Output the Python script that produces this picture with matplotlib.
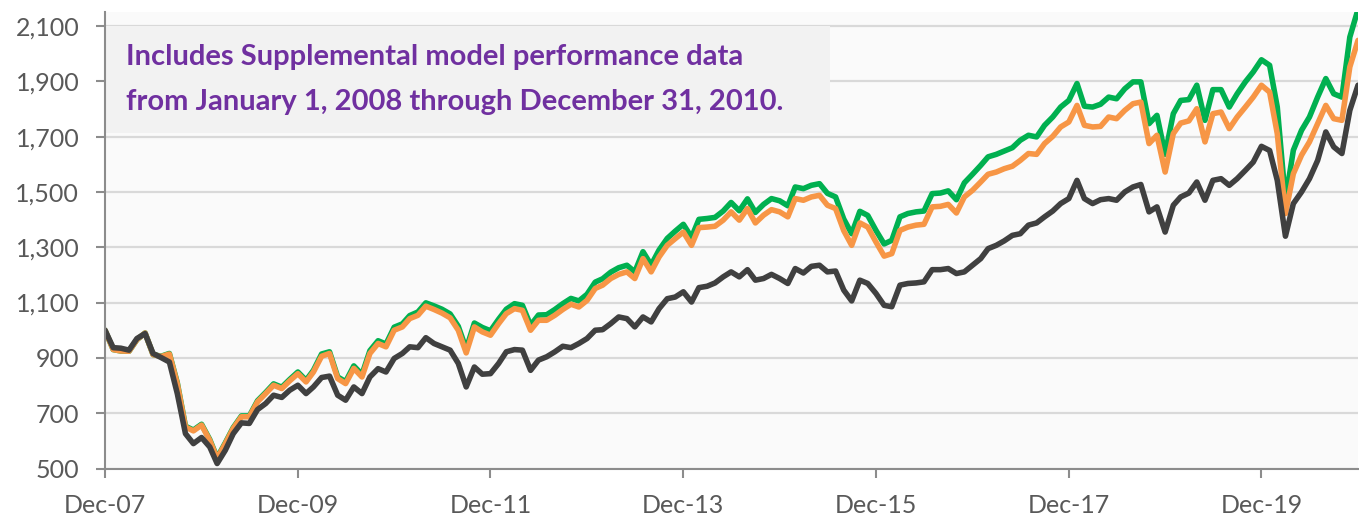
import matplotlib
matplotlib.use("Agg")
import matplotlib.pyplot as plt
import matplotlib.ticker as mticker
from matplotlib.patches import Rectangle
import pandas as pd

# ──────────────────────────────────────────────────────────────────────────────
# Data (growth of 1,000, monthly, Dec-07 .. Dec-20)
# ──────────────────────────────────────────────────────────────────────────────

months = pd.date_range("2007-12-31", periods=157, freq="ME")

green = [
    1000, 930, 925, 924, 966, 990, 912, 906, 916, 810,
    653, 639, 660, 605, 539, 593, 648, 690, 690, 745,
    775, 806, 794, 822, 849, 819, 855, 914, 922, 831,
    814, 871, 840, 926, 962, 950, 1011, 1023, 1053, 1066,
    1099, 1088, 1076, 1059, 1014, 932, 1026, 1010, 998, 1040,
    1076, 1096, 1090, 1018, 1055, 1056, 1075, 1096, 1115, 1106,
    1130, 1174, 1186, 1210, 1226, 1235, 1211, 1284, 1236, 1290,
    1332, 1358, 1383, 1336, 1401, 1404, 1408, 1431, 1462, 1432,
    1475, 1426, 1455, 1476, 1468, 1450, 1518, 1512, 1524, 1530,
    1495, 1482, 1402, 1349, 1430, 1415, 1361, 1312, 1325, 1410,
    1422, 1428, 1431, 1494, 1496, 1504, 1472, 1533, 1564, 1596,
    1627, 1636, 1648, 1660, 1687, 1705, 1699, 1741, 1771, 1807,
    1831, 1892, 1810, 1807, 1817, 1843, 1837, 1873, 1898, 1898,
    1747, 1777, 1636, 1783, 1831, 1834, 1886, 1759, 1870, 1870,
    1807, 1855, 1898, 1934, 1978, 1958, 1807, 1470, 1651, 1723,
    1771, 1843, 1910, 1855, 1843, 2060, 2160,
]

orange = [
    1000, 930, 925, 924, 966, 990, 912, 905, 914, 807,
    650, 636, 657, 602, 536, 590, 645, 687, 687, 741,
    771, 801, 789, 817, 843, 813, 849, 906, 916, 825,
    807, 862, 831, 916, 952, 940, 1000, 1012, 1042, 1054,
    1087, 1075, 1062, 1045, 1000, 918, 1012, 994, 982, 1024,
    1060, 1078, 1072, 1000, 1036, 1036, 1054, 1075, 1094, 1084,
    1108, 1151, 1163, 1187, 1202, 1211, 1187, 1259, 1211, 1265,
    1307, 1331, 1355, 1307, 1371, 1373, 1376, 1398, 1428, 1398,
    1440, 1388, 1416, 1436, 1428, 1410, 1476, 1470, 1482, 1488,
    1452, 1440, 1360, 1307, 1388, 1373, 1319, 1268, 1277, 1361,
    1373, 1380, 1383, 1446, 1448, 1455, 1424, 1482, 1506, 1536,
    1564, 1572, 1584, 1593, 1614, 1639, 1636, 1675, 1701, 1735,
    1753, 1813, 1741, 1735, 1737, 1771, 1765, 1795, 1819, 1825,
    1675, 1705, 1572, 1711, 1749, 1757, 1801, 1681, 1783, 1789,
    1729, 1771, 1807, 1843, 1886, 1861, 1711, 1422, 1566, 1633,
    1681, 1747, 1813, 1765, 1759, 1952, 2048,
]

gray = [
    1000, 937, 935, 928, 970, 988, 916, 901, 885, 771,
    626, 590, 612, 578, 518, 566, 626, 665, 663, 713,
    735, 765, 757, 783, 801, 771, 795, 829, 834, 765,
    747, 795, 771, 831, 861, 849, 898, 916, 940, 937,
    973, 952, 940, 928, 880, 795, 867, 841, 843, 880,
    922, 930, 928, 855, 892, 904, 922, 942, 937, 952,
    970, 1000, 1002, 1024, 1048, 1042, 1012, 1048, 1030, 1078,
    1114, 1120, 1139, 1102, 1154, 1159, 1171, 1193, 1211, 1193,
    1219, 1181, 1187, 1202, 1187, 1169, 1223, 1207, 1231, 1235,
    1211, 1214, 1145, 1106, 1181, 1169, 1133, 1090, 1085, 1163,
    1169, 1171, 1175, 1219, 1219, 1223, 1205, 1211, 1235, 1259,
    1295, 1307, 1323, 1343, 1349, 1380, 1388, 1410, 1431, 1458,
    1476, 1542, 1476, 1458, 1472, 1476, 1470, 1500, 1518, 1527,
    1428, 1446, 1355, 1452, 1482, 1496, 1536, 1470, 1542, 1548,
    1524, 1548, 1578, 1608, 1665, 1650, 1542, 1340, 1458, 1500,
    1548, 1614, 1717, 1663, 1639, 1795, 1886,
]

y_ticks = [500, 700, 900, 1100, 1300, 1500, 1700, 1900, 2100]
note_lines = ["Includes Supplemental model performance data",
              "from January 1, 2008 through December 31, 2010."]

# ──────────────────────────────────────────────────────────────────────────────
# Plot
# ──────────────────────────────────────────────────────────────────────────────

W, H = 1359, 518
plt.rcParams["font.family"] = ["Lato", "DejaVu Sans"]
fig = plt.figure(figsize=(W / 100, H / 100), dpi=100)

ax = fig.add_axes([105 / W, 49.5 / H, 1253 / W, 456.3 / H])
ax.set_facecolor("#fafafa")

for series, color in [(green, "#00b050"), (orange, "#f79646"), (gray, "#404040")]:
    ax.plot(months, series, color=color, lw=4.0, solid_joinstyle="round",
            solid_capstyle="round", zorder=3)

ax.set_xlim(months[0], months[-1])
ax.set_ylim(500, 2150)

ax.set_yticks(y_ticks)
ax.yaxis.set_major_formatter(mticker.StrMethodFormatter("{x:,.0f}"))
xt = months[::24]
ax.set_xticks(xt)
ax.set_xticklabels([d.strftime("%b-%y") for d in xt])

ax.grid(True, axis="y", color="#d9d9d9", lw=1.6, zorder=0)
ax.set_axisbelow(True)
for s in ["top", "right"]:
    ax.spines[s].set_visible(False)
for s in ["left", "bottom"]:
    ax.spines[s].set_color("#8c8c8c")
    ax.spines[s].set_linewidth(1.5)
    ax.spines[s].set_zorder(4)

ax.tick_params(axis="both", colors="#8c8c8c", width=1.5, length=6.5,
               labelcolor="#595959", labelsize=18, pad=12)

# note box (top-left)
tr = ax.get_yaxis_transform()
ax.add_patch(Rectangle((0, 1713), (830 - 105) / 1253, 2100 - 1713,
                       transform=tr, facecolor="#f2f2f2", edgecolor="none",
                       zorder=2.5))
for txt, yv in zip(note_lines, [1959, 1796]):
    ax.text((126 - 105) / 1253, yv, txt, transform=tr, color="#7030a0",
            fontsize=21, fontweight="bold", va="baseline", zorder=5)

fig.savefig("out.png", dpi=100)
